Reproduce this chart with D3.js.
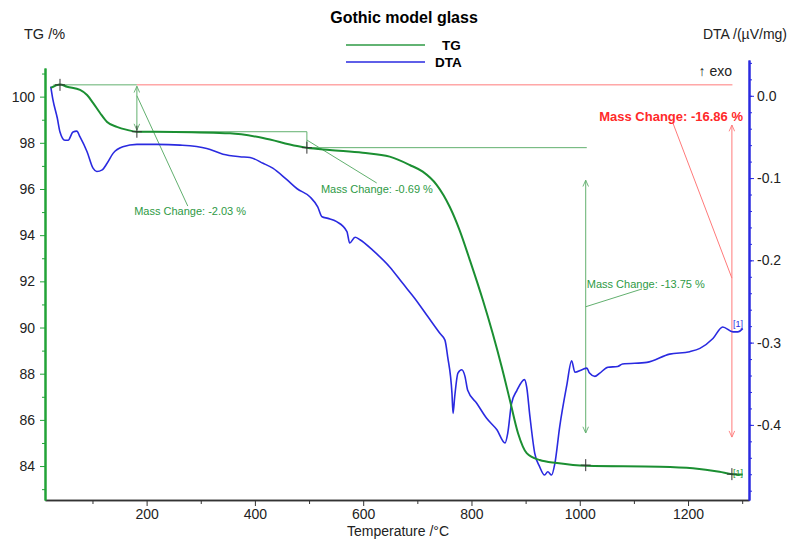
<!DOCTYPE html>
<html>
<head>
<meta charset="utf-8">
<script src="https://cdn.jsdelivr.net/npm/d3@7"></script>
<style>
  body { margin: 0; background: #fff; }
  svg { font-family: "Liberation Sans", Arial, sans-serif; }
</style>
</head>
<body>
<svg id="chart" width="798" height="543"></svg>
<script>
// TG curve (temperature in °C, mass in %)
var tgTemp = [23, 40, 53, 77, 90, 101, 114, 127, 145, 164, 182, 252, 354, 415, 478, 496, 538, 599, 649, 686,
  710, 736, 760, 778, 797, 821, 839, 856, 871, 886, 902, 926, 958, 1013, 1148, 1209, 1258, 1282, 1301];
var tgVal = [100.38, 100.53, 100.43, 100.29, 100.07, 99.73, 99.29, 98.9, 98.69, 98.56, 98.48, 98.47, 98.41, 98.21, 97.86, 97.79, 97.69, 97.57, 97.4, 97.04,
  96.75, 96.17, 95.22, 94.22, 92.92, 91.19, 89.76, 88.28, 86.85, 85.42, 84.56, 84.26, 84.13, 84.01, 83.97, 83.9, 83.75, 83.65, 83.63];

// DTA curve (temperature in °C, µV/mg)
var dtaTemp = [23, 27, 35, 40, 49, 55, 64, 71, 77, 90, 101, 108, 118, 127, 138, 156, 182, 219, 262, 311,
  341, 372, 391, 415, 433, 459, 478, 502, 516, 524, 535, 551, 570, 575, 585, 594, 618, 649, 673, 695,
  719, 742, 751, 756, 764, 766, 769, 775, 782, 788, 793, 810, 828, 847, 862, 867, 874, 884, 898, 902,
  908, 917, 926, 935, 941, 948, 954, 963, 976, 985, 991, 1004, 1013, 1018, 1028, 1037, 1052, 1070, 1079, 1124,
  1166, 1203, 1222, 1246, 1264, 1283, 1292, 1301];
var dtaVal = [0.011, -0.005, -0.027, -0.044, -0.054, -0.054, -0.044, -0.043, -0.050, -0.068, -0.088, -0.092, -0.090, -0.082, -0.070, -0.062, -0.059, -0.059, -0.060, -0.064,
  -0.071, -0.074, -0.075, -0.082, -0.088, -0.102, -0.113, -0.123, -0.135, -0.147, -0.149, -0.153, -0.165, -0.179, -0.172, -0.175, -0.188, -0.208, -0.228, -0.246,
  -0.268, -0.289, -0.297, -0.317, -0.362, -0.386, -0.366, -0.337, -0.333, -0.341, -0.358, -0.374, -0.392, -0.406, -0.422, -0.410, -0.374, -0.358, -0.345, -0.354,
  -0.390, -0.435, -0.451, -0.461, -0.457, -0.461, -0.447, -0.402, -0.352, -0.322, -0.336, -0.333, -0.331, -0.337, -0.341, -0.337, -0.330, -0.329, -0.326, -0.324,
  -0.314, -0.311, -0.307, -0.295, -0.281, -0.287, -0.287, -0.283];

// ticks
var xTicks = [200, 400, 600, 800, 1000, 1200];
var xMinor = [100, 300, 500, 700, 900, 1100, 1300];
var tgTicks = [84, 86, 88, 90, 92, 94, 96, 98, 100];
var tgMinor = [83, 85, 87, 89, 91, 93, 95, 97, 99, 101];
var dtaTicks = [0, -0.1, -0.2, -0.3, -0.4];
var dtaMinor = d3.range(-0.48, 0.05, 0.02);

// mass change evaluation points
var stepTemp = [40, 182, 496, 1011, 1281];
var stepTG = [100.51, 98.48, 97.79, 84.04, 83.65];
var massChange = ["-2.03", "-0.69", "-13.75", "-16.86"];

var GREEN = "#1b8f32", BLUE = "#2a2ae0", ANN = "#62b06f", RED = "#ff7a7a";

var svg = d3.select("#chart");
var x = d3.scaleLinear().domain([12.3, 1312.6]).range([45, 749]);
var yTG = d3.scaleLinear().domain([82.53, 101.24]).range([500, 68]);
var yDTA = d3.scaleLinear().domain([-0.4913, 0.0435]).range([500, 60]);

function styleAxis(g, color, width) {
  g.select(".domain").attr("stroke", color).attr("stroke-width", width);
  g.selectAll(".tick line").attr("stroke", color).attr("stroke-width", 1);
  g.selectAll(".tick text").attr("fill", "#222").attr("font-size", 14)
    .attr("font-family", "Liberation Sans, Arial, sans-serif");
}

// bottom axis
var gxm = svg.append("g").attr("transform", "translate(0,500)")
  .call(d3.axisBottom(x).tickValues(xMinor).tickSize(4).tickSizeOuter(0).tickFormat(""));
styleAxis(gxm, "#333", 1.5);
var gx = svg.append("g").attr("transform", "translate(0,500)")
  .call(d3.axisBottom(x).tickValues(xTicks).tickSize(6).tickPadding(3).tickSizeOuter(0).tickFormat(d3.format("d")));
styleAxis(gx, "#333", 1.5);

// left axis (TG)
var gym = svg.append("g").attr("transform", "translate(45,0)")
  .call(d3.axisLeft(yTG).tickValues(tgMinor).tickSize(3).tickSizeOuter(0).tickFormat(""));
styleAxis(gym, "#22a338", 2);
var gy = svg.append("g").attr("transform", "translate(45,0)")
  .call(d3.axisLeft(yTG).tickValues(tgTicks).tickSize(5).tickPadding(5).tickSizeOuter(0));
styleAxis(gy, "#22a338", 2);

// right axis (DTA)
var grm = svg.append("g").attr("transform", "translate(749,0)")
  .call(d3.axisRight(yDTA).tickValues(dtaMinor).tickSize(3).tickSizeOuter(0).tickFormat(""));
styleAxis(grm, BLUE, 2);
var gr = svg.append("g").attr("transform", "translate(749,0)")
  .call(d3.axisRight(yDTA).tickValues(dtaTicks).tickSize(5).tickPadding(3).tickSizeOuter(0)
    .tickFormat(function(d) { return d.toFixed(1); }));
styleAxis(gr, BLUE, 2);

// titles
svg.append("text").attr("x", 404).attr("y", 23).attr("text-anchor", "middle")
  .attr("font-size", 16).attr("font-weight", "bold").text("Gothic model glass");
svg.append("text").attr("x", 24).attr("y", 39).attr("font-size", 14.5).attr("fill", "#222").text("TG /%");
svg.append("text").attr("x", 787).attr("y", 39).attr("text-anchor", "end").attr("font-size", 14).attr("fill", "#222").text("DTA /(µV/mg)");
svg.append("text").attr("x", 398).attr("y", 536).attr("text-anchor", "middle").attr("font-size", 14).attr("fill", "#222").text("Temperature /°C");
svg.append("text").attr("x", 732).attr("y", 76).attr("text-anchor", "end").attr("font-size", 14).attr("fill", "#222").text("↑ exo");

// legend
svg.append("line").attr("x1", 346).attr("x2", 425).attr("y1", 45).attr("y2", 45).attr("stroke", "#2e9a45").attr("stroke-width", 1.5);
svg.append("line").attr("x1", 346).attr("x2", 425).attr("y1", 62).attr("y2", 62).attr("stroke", BLUE).attr("stroke-width", 1.5);
svg.append("text").attr("x", 442).attr("y", 50).attr("font-size", 13.5).attr("font-weight", "bold").text("TG");
svg.append("text").attr("x", 435).attr("y", 67).attr("font-size", 13.5).attr("font-weight", "bold").text("DTA");

// arrow markers
var defs = svg.append("defs");
[["arrG", ANN], ["arrR", RED]].forEach(function(m) {
  defs.append("marker").attr("id", m[0]).attr("viewBox", "0 0 10 10").attr("refX", 10).attr("refY", 5)
    .attr("markerWidth", 7).attr("markerHeight", 7).attr("orient", "auto-start-reverse")
    .attr("markerUnits", "userSpaceOnUse")
    .append("path").attr("d", "M1,1 L10,5 L1,9").attr("fill", "none").attr("stroke", m[1]).attr("stroke-width", 1.3);
});

var ann = svg.append("g");
function seg(t1, v1, t2, v2, color, marker) {
  var l = ann.append("line").attr("x1", x(t1)).attr("y1", yTG(v1)).attr("x2", x(t2)).attr("y2", yTG(v2))
    .attr("stroke", color).attr("stroke-width", 1);
  if (marker) l.attr("marker-start", "url(#" + marker + ")").attr("marker-end", "url(#" + marker + ")");
  return l;
}

// step lines
seg(28, stepTG[0], stepTemp[1], stepTG[0], ANN);
seg(stepTemp[1], stepTG[0], stepTemp[4] + 1, stepTG[0], RED);
seg(stepTemp[1], stepTG[1], stepTemp[2], stepTG[1], ANN);
seg(stepTemp[2], stepTG[1], stepTemp[2], stepTG[2], ANN);
seg(stepTemp[2], stepTG[2], stepTemp[3] + 2, stepTG[2], ANN);

// double arrows
seg(stepTemp[1], 100.45, stepTemp[1], 98.55, ANN, "arrG");
seg(stepTemp[3], 96.38, stepTemp[3], 85.43, ANN, "arrG");
seg(stepTemp[4], 98.77, stepTemp[4], 85.25, RED, "arrR");

// leader lines
seg(stepTemp[1], 100.04, 276, 95.26, ANN);
seg(stepTemp[2], 98.12, 625, 96.26, ANN);
seg(stepTemp[3], 90.9, 1115, 91.67, ANN);
seg(1172, 98.86, stepTemp[4], 92.14, RED);

// labels
ann.append("text").attr("x", x(177)).attr("y", yTG(94.87)).attr("font-size", 11).attr("fill", "#2e9a45")
  .text("Mass Change: " + massChange[0] + " %");
ann.append("text").attr("x", x(522)).attr("y", yTG(95.83)).attr("font-size", 11).attr("fill", "#2e9a45")
  .text("Mass Change: " + massChange[1] + " %");
ann.append("text").attr("x", x(1013)).attr("y", yTG(91.71)).attr("font-size", 11).attr("fill", "#2e9a45")
  .text("Mass Change: " + massChange[2] + " %");
ann.append("text").attr("x", 743).attr("y", 121).attr("text-anchor", "end").attr("font-size", 13)
  .attr("font-weight", "bold").attr("fill", "#ff2a2a").text("Mass Change: " + massChange[3] + " %");

// curves
var dtaLine = d3.line().x(function(d, i) { return x(dtaTemp[i]); }).y(function(d) { return yDTA(d); })
  .curve(d3.curveMonotoneX);
svg.append("path").datum(dtaVal).attr("d", dtaLine).attr("fill", "none").attr("stroke", BLUE).attr("stroke-width", 1.6);

var tgLine = d3.line().x(function(d, i) { return x(tgTemp[i]); }).y(function(d) { return yTG(d); })
  .curve(d3.curveMonotoneX);
svg.append("path").datum(tgVal).attr("d", tgLine).attr("fill", "none").attr("stroke", GREEN).attr("stroke-width", 2);

// evaluation crosses
svg.append("g").selectAll("path").data(stepTemp).join("path")
  .attr("d", function(d, i) {
    var cx = x(d), cy = yTG(stepTG[i]);
    return "M" + (cx - 5) + "," + cy + "H" + (cx + 5) + "M" + cx + "," + (cy - 6) + "V" + (cy + 6);
  })
  .attr("stroke", "#333").attr("stroke-width", 1);

// end markers
svg.append("text").attr("x", x(1283)).attr("y", yDTA(-0.281)).attr("font-size", 9).attr("fill", BLUE).text("[1]");
svg.append("text").attr("x", x(1283)).attr("y", yTG(83.63) + 1).attr("font-size", 9).attr("fill", GREEN).text("[1]");
</script>
</body>
</html>
